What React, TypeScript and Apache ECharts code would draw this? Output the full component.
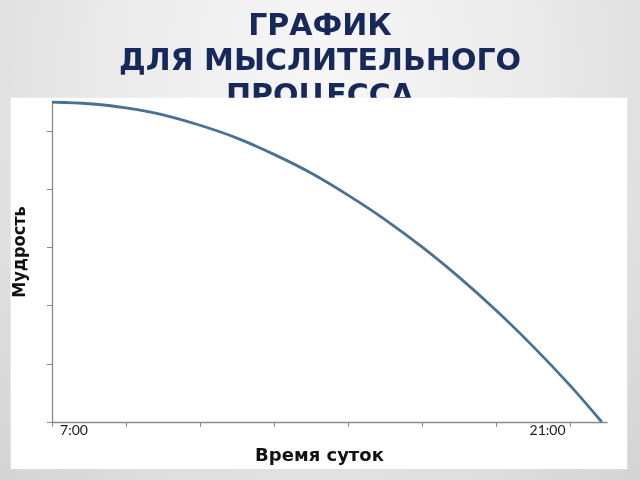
import React, { useEffect, useRef } from 'react';
import * as echarts from 'echarts';

// time of day (hours) and the "wisdom" level
const hours = [7, 8, 9, 10, 11, 12, 13, 14, 15, 16, 17, 18, 19, 20, 21, 21.86];
const wisdom = [5.5, 5.47, 5.4, 5.28, 5.1, 4.88, 4.6, 4.28, 3.9, 3.48, 3.01, 2.49, 1.92, 1.3, 0.63, 0];

const xTickHours = [7, 9, 11, 13, 15, 17, 19, 21];
const xLabelHours = [7, 21];
const yTickValues = [0, 1, 2, 3, 4, 5];

const titleLines = ['ГРАФИК', 'ДЛЯ МЫСЛИТЕЛЬНОГО', 'ПРОЦЕССА'];
const xAxisName = 'Время суток';
const yAxisName = 'Мудрость';

const AXIS_COLOR = '#8a8a8a';
const LINE_COLOR = '#4a7191';
const TITLE_COLOR = '#17295b';

export default function App() {
  const chartRef = useRef<HTMLDivElement>(null);

  useEffect(() => {
    if (!chartRef.current) return;
    const chart = echarts.init(chartRef.current, null, { renderer: 'svg' });

    const labelFont = { fontFamily: 'Lato', fontSize: 14, color: '#1a1a1a' };

    chart.setOption({
      animation: false,
      backgroundColor: 'transparent',
      grid: { left: 52, right: 33, top: 102, bottom: 58, containLabel: false },
      graphic: [
        ...titleLines.map((line, i) => ({
          type: 'text',
          z: -20,
          x: 320,
          y: 24 + i * 35,
          style: {
            text: line,
            fill: TITLE_COLOR,
            font: 'bold 30px "DejaVu Sans"',
            textAlign: 'center',
            textVerticalAlign: 'middle',
          },
        })),
        {
          type: 'rect',
          z: -10,
          shape: { x: 10.7, y: 97.7, width: 616.5, height: 371.3 },
          style: { fill: '#ffffff' },
        },
      ],
      xAxis: {
        type: 'value',
        min: 7,
        max: 22,
        name: xAxisName,
        nameLocation: 'middle',
        nameGap: 23,
        nameTextStyle: {
          fontFamily: 'DejaVu Sans',
          fontWeight: 'bold',
          fontSize: 18,
          color: '#111',
          padding: [0, 20, 0, 0],
        },
        axisLine: { show: true, lineStyle: { color: AXIS_COLOR, width: 1.3 } },
        axisTick: {
          show: true,
          customValues: xTickHours,
          length: 5,
          lineStyle: { color: AXIS_COLOR },
        },
        axisLabel: {
          customValues: xLabelHours,
          margin: 0,
          ...labelFont,
          formatter: (v: number) => (v === xLabelHours[0] ? `{l|${v}:00}` : `{r|${v}:00}`),
          rich: {
            l: { ...labelFont, padding: [0, 0, 0, 44] },
            r: { ...labelFont, padding: [0, 45, 0, 0] },
          },
        },
        splitLine: { show: false },
      },
      yAxis: {
        type: 'value',
        min: 0,
        max: 5.5,
        name: yAxisName,
        nameLocation: 'middle',
        nameGap: 25,
        nameTextStyle: {
          fontFamily: '"Liberation Sans Narrow", "DejaVu Sans Condensed", sans-serif',
          fontWeight: 'bold',
          fontSize: 18,
          color: '#111',
          padding: [0, 0, 0, 20],
        },
        axisLine: { show: true, lineStyle: { color: AXIS_COLOR, width: 1.3 } },
        axisTick: {
          show: true,
          customValues: yTickValues,
          length: 5,
          lineStyle: { color: AXIS_COLOR },
        },
        axisLabel: { show: false },
        splitLine: { show: false },
      },
      series: [
        {
          type: 'line',
          data: hours.map((h, i) => [h, wisdom[i]]),
          smooth: 0.3,
          symbol: 'none',
          lineStyle: { color: LINE_COLOR, width: 2.8 },
        },
      ],
    });

    return () => chart.dispose();
  }, []);

  return (
    <div
      style={{
        position: 'fixed',
        left: 0,
        top: 0,
        width: 640,
        height: 480,
        background:
          'radial-gradient(ellipse at 50% 15%, #f7f7f7 0%, #e8e8e8 55%, #d4d4d4 100%)',
      }}
    >
      <div ref={chartRef} style={{ width: 640, height: 480 }} />
    </div>
  );
}
